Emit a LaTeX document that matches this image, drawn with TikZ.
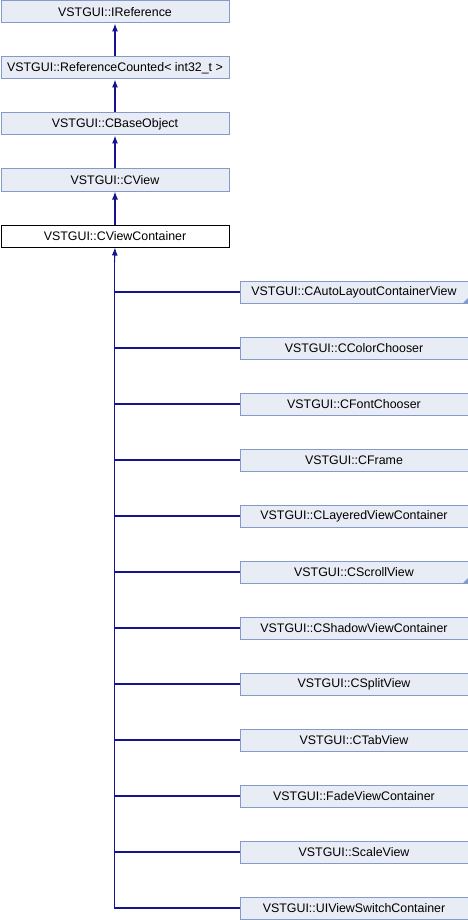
\documentclass[tikz,border=0pt]{standalone}
\usepackage{fontspec}
\setmainfont{Liberation Sans}
\usetikzlibrary{arrows.meta}
\definecolor{boxfill}{RGB}{232,236,245}
\definecolor{boxline}{RGB}{132,155,201}
\definecolor{edge}{RGB}{20,20,140}
\begin{document}
\begin{tikzpicture}[x=1pt,y=-1pt,
  cls/.style={draw=boxline,fill=boxfill,line width=1pt,minimum width=228pt,minimum height=22pt,inner sep=0pt,font=\fontsize{12.4}{14}\selectfont,anchor=north west},
  cur/.style={cls,draw=black,fill=white},
  inh/.style={draw=edge,line width=1.1pt,-{Latex[length=8pt,width=6pt]}},
  lnk/.style={draw=edge,line width=1.1pt}]
\useasboundingbox (0,0) rectangle (468,920);
\node[cls] (a) at (0.5,0.5) {VSTGUI::IReference};
\node[cls] (b) at (0.5,56.5) {VSTGUI::ReferenceCounted< int32\_t >};
\node[cls] (c) at (0.5,112.5) {VSTGUI::CBaseObject};
\node[cls] (d) at (0.5,168.5) {VSTGUI::CView};
\node[cur] (e) at (0.5,224.5) {VSTGUI::CViewContainer};
\draw[inh] (b) -- (a);
\draw[inh] (c) -- (b);
\draw[inh] (d) -- (c);
\draw[inh] (e) -- (d);
\foreach \n/\t [count=\i from 0] in {k1/CAutoLayoutContainerView,k2/CColorChooser,k3/CFontChooser,k4/CFrame,k5/CLayeredViewContainer,k6/CScrollView,k7/CShadowViewContainer,k8/CSplitView,k9/CTabView,k10/FadeViewContainer,k11/ScaleView,k12/UIViewSwitchContainer}{
  \node[cls] (\n) at (239.5,280.5+56*\i) {VSTGUI::\t};
  \draw[lnk] (\n.west) -| (114.5,260);
}
\fill[boxline] (k1.south east) ++(-0.5,-0.5) -- ++(0,-5) -- ++(-5,5) -- cycle;
\fill[boxline] (k6.south east) ++(-0.5,-0.5) -- ++(0,-5) -- ++(-5,5) -- cycle;
\coordinate (top) at (114.5,262);
\draw[inh] (top) -- (e.south);
\end{tikzpicture}
\end{document}
